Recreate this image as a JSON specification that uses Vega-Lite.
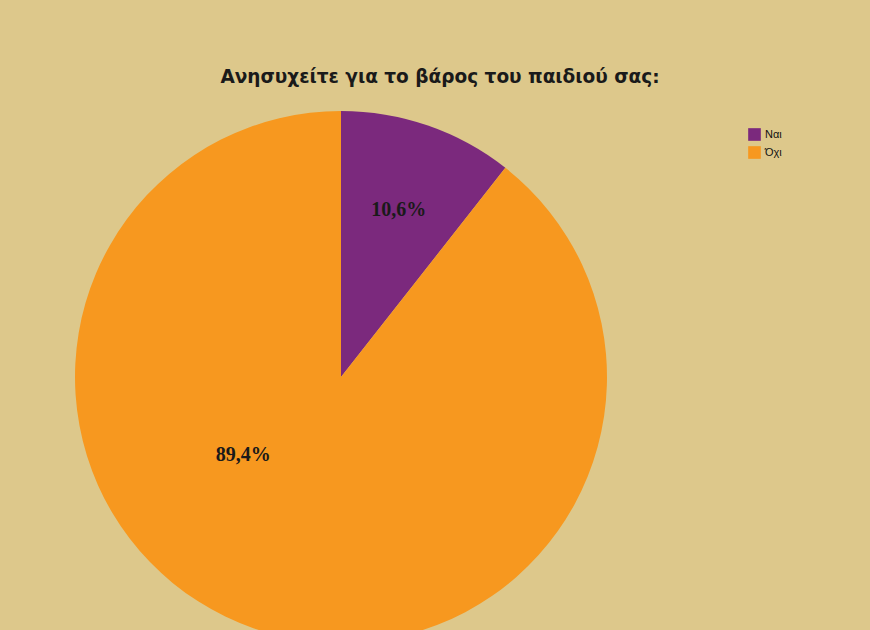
{
  "$schema": "https://vega.github.io/schema/vega-lite/v6.json",
  "width": 666,
  "height": 732,
  "autosize": {"type": "none"},
  "padding": {"left": 8, "top": 11, "right": 196, "bottom": 0},
  "background": "#DDC88B",
  "view": {"stroke": null},
  "title": {
    "text": "Ανησυχείτε για το βάρος του παιδιού σας:",
    "font": "DejaVu Sans",
    "fontSize": 18.5,
    "fontWeight": "bold",
    "color": "#1a1a1a",
    "anchor": "middle",
    "dx": 99,
    "offset": -75
  },
  "data": {
    "values": [
      {"answer": "Ναι", "pct": 10.6, "label": "10,6%"},
      {"answer": "Όχι", "pct": 89.4, "label": "89,4%"}
    ]
  },
  "encoding": {
    "theta": {"field": "pct", "type": "quantitative", "stack": true},
    "order": {"field": "pct", "type": "quantitative", "sort": "ascending"},
    "color": {
      "field": "answer",
      "type": "nominal",
      "scale": {"domain": ["Ναι", "Όχι"], "range": ["#7B297D", "#F7981F"]},
      "legend": {
        "title": null,
        "orient": "none",
        "legendX": 740,
        "legendY": 117,
        "padding": 0,
        "symbolType": "square",
        "symbolSize": 160,
        "symbolStrokeWidth": 0,
        "labelFont": "Liberation Sans",
        "labelFontSize": 11,
        "labelColor": "#111111",
        "rowPadding": 5
      }
    }
  },
  "layer": [
    {"mark": {"type": "arc", "radius": 266, "stroke": null}},
    {
      "mark": {"type": "text", "radius": 177, "font": "Liberation Serif", "fontSize": 20, "fontWeight": "bold", "color": "#1a1a1a"},
      "encoding": {
        "text": {"condition": {"test": "datum.answer === 'Ναι'", "field": "label"}, "value": ""},
        "color": {"value": "#1a1a1a"}
      }
    },
    {
      "mark": {"type": "text", "radius": 125, "thetaOffset": 0.566, "font": "Liberation Serif", "fontSize": 20, "fontWeight": "bold", "color": "#1a1a1a"},
      "encoding": {
        "text": {"condition": {"test": "datum.answer === 'Όχι'", "field": "label"}, "value": ""},
        "color": {"value": "#1a1a1a"}
      }
    }
  ]
}
